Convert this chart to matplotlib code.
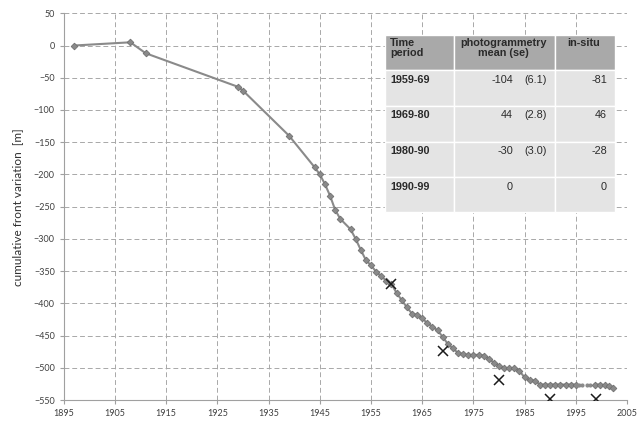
import matplotlib
matplotlib.use("Agg")
import matplotlib.pyplot as plt
from matplotlib.patches import Rectangle

# cumulative front variation
years = [1897, 1908, 1911, 1929, 1930, 1939, 1944, 1945, 1946, 1947, 1948, 1949,
         1951, 1952, 1953, 1954, 1955, 1956, 1957, 1958, 1959, 1960, 1961, 1962,
         1963, 1964, 1965, 1966, 1967, 1968, 1969, 1970, 1971, 1972, 1973, 1974,
         1975, 1976, 1977, 1978, 1979, 1980, 1981, 1982, 1983, 1984, 1985, 1986,
         1987, 1988, 1989, 1990, 1991, 1992, 1993, 1994, 1995]
front = [0, 5, -12, -64, -70, -140, -189, -200, -215, -233, -255, -269,
         -285, -300, -317, -333, -341, -351, -358, -365, -370, -384, -395, -406,
         -416, -418, -423, -431, -436, -442, -452, -463, -470, -477, -479, -480,
         -480, -480, -481, -486, -492, -497, -501, -501, -501, -505, -515, -519,
         -520, -526, -526, -526, -526, -526, -526, -526, -526]
# sparse part of the record (small dots) and last years
years_dots = [1995.6, 1996.3, 1997.1, 1997.8]
front_dots = [-526, -526, -526, -526]
years_end = [1998.7, 1999.7, 2000.7, 2001.4, 2002.2]
front_end = [-526, -526, -527, -529, -531]

# in-situ values
insitu_years = [1959, 1969, 1980, 1990, 1999]
insitu_front = [-370, -474, -519, -548, -548]

# table
col_heads = ["Time\nperiod", "photogrammetry\nmean (se)", "in-situ"]
periods = ["1959-69", "1969-80", "1980-90", "1990-99"]
photo_mean = ["-104", "44", "-30", "0"]
photo_se = ["(6.1)", "(2.8)", "(3.0)", ""]
insitu_vals = ["-81", "46", "-28", "0"]

W, H = 639, 424
fig = plt.figure(figsize=(W / 100, H / 100), dpi=100)
ax = fig.add_axes([63.8 / W, 1 - 400 / H, (627 - 63.8) / W, (400 - 13.3) / H])

line_c = "#8a8a8a"
edge_c = "#707070"
ax.plot(years, front, color=line_c, lw=1.5, marker="D", ms=3.4,
        mfc=line_c, mec=edge_c, mew=0.6, zorder=3)
ax.plot(years[-1:] + years_dots + years_end[:1], front[-1:] + front_dots + front_end[:1],
        color=line_c, lw=0, marker="o", ms=2.0, mfc=line_c, mec=line_c, zorder=3)
ax.plot(years_end, front_end, color=line_c, lw=1.5, marker="D", ms=3.4,
        mfc=line_c, mec=edge_c, mew=0.6, zorder=3)
ax.plot(insitu_years, insitu_front, ls="none", marker="x", ms=6.5, mew=1.1,
        color="#1a1a1a", zorder=4)

ax.set_xlim(1895, 2005)
ax.set_ylim(-550, 50)
ax.set_xticks(range(1895, 2006, 10))
ax.set_yticks(range(-550, 51, 50))
ax.grid(True, ls=(0, (5, 3)), color="#a8a8a8", lw=0.7)
ax.set_axisbelow(True)
for s in ["top", "right"]:
    ax.spines[s].set_visible(False)
for s in ["left", "bottom"]:
    ax.spines[s].set_color("#a0a0a0")
ax.tick_params(length=3, color="#a0a0a0", labelsize=6.5, labelcolor="#404040")
for lab in ax.get_xticklabels() + ax.get_yticklabels():
    lab.set_fontfamily("Lato")
ax.set_ylabel("cumulative front variation  [m]", fontsize=8.5, family="Lato",
              color="#303030", labelpad=8)

# table drawn in pixel coordinates of the figure
def fx(x):
    return x / W

def fy(y):
    return 1 - y / H

cols = [385, 453.5, 554.5, 615]
rows = [35, 70, 105.5, 141.5, 176.5, 211.5]
hdr_c = "#a9a9a9"
row_c = "#e4e4e4"

for i in range(3):
    fig.patches.append(Rectangle((fx(cols[i]), fy(rows[1])), fx(cols[i + 1] - cols[i]),
                                 (rows[1] - rows[0]) / H, transform=fig.transFigure,
                                 facecolor=hdr_c, edgecolor="white", lw=1.0, zorder=5))
    for r in range(1, 5):
        fig.patches.append(Rectangle((fx(cols[i]), fy(rows[r + 1])), fx(cols[i + 1] - cols[i]),
                                     (rows[r + 1] - rows[r]) / H, transform=fig.transFigure,
                                     facecolor=row_c, edgecolor="white", lw=1.0, zorder=5))
# faint split between mean and se
fig.add_artist(plt.Line2D([fx(521.5), fx(521.5)], [fy(rows[1]), fy(rows[-1])],
                          transform=fig.transFigure, color="#ececec", lw=0.8, zorder=5))

tf = dict(family="Liberation Sans", fontsize=7.8, color="#2a2a2a", zorder=6,
          transform=fig.transFigure)
fig.text(fx(390), fy(38), col_heads[0], ha="left", va="top", weight="bold",
         linespacing=1.05, **tf)
fig.text(fx(503), fy(38), col_heads[1], ha="center", va="top", weight="bold",
         linespacing=1.05, **tf)
fig.text(fx(584), fy(38), col_heads[2], ha="center", va="top", weight="bold", **tf)

for r in range(4):
    ytop = fy(rows[r + 1] + 5)
    fig.text(fx(390), ytop, periods[r], ha="left", va="top", weight="bold", **tf)
    fig.text(fx(513), ytop, photo_mean[r], ha="right", va="top", **tf)
    fig.text(fx(547), ytop, photo_se[r], ha="right", va="top", **tf)
    fig.text(fx(607), ytop, insitu_vals[r], ha="right", va="top", **tf)

fig.savefig("out.png", dpi=100)
